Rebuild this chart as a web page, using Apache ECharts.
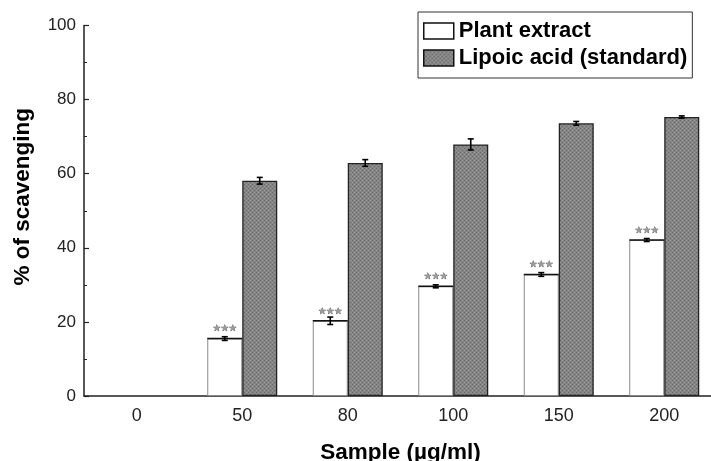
<!DOCTYPE html>
<html>
<head>
<meta charset="utf-8">
<script src="https://cdn.jsdelivr.net/npm/echarts@6/dist/echarts.min.js"></script>
<style>
  html, body { margin: 0; padding: 0; background: #fff; overflow: hidden; }
  #chart { width: 711px; height: 461px; }
</style>
</head>
<body>
<div id="chart"></div>
<script>
// Sample concentrations (µg/ml)
const categories = ['0', '50', '80', '100', '150', '200'];
// % of scavenging, mean and error
const plantExtract = [null, 15.5, 20.3, 29.6, 32.8, 42.1];
const plantError   = [null, 0.5, 1.0, 0.4, 0.5, 0.4];
const lipoicAcid   = [null, 58.1, 62.9, 67.9, 73.6, 75.3];
const lipoicError  = [null, 0.9, 0.9, 1.5, 0.5, 0.3];
const yTicks = [0, 20, 40, 60, 80, 100];

const FONT = '"Liberation Sans", Arial, sans-serif';
const BAR_W = 35;

// Fine dotted texture for the standard bars
function makeTexture() {
  const c = document.createElement('canvas');
  c.width = 4; c.height = 4;
  const ctx = c.getContext('2d');
  ctx.fillStyle = '#858585';
  ctx.fillRect(0, 0, 4, 4);
  ctx.fillStyle = '#6a6a6a';
  ctx.fillRect(0, 0, 1, 1);
  ctx.fillRect(2, 2, 1, 1);
  ctx.fillStyle = '#969696';
  ctx.fillRect(2, 0, 1, 1);
  ctx.fillRect(0, 2, 1, 1);
  return c;
}
const texture = makeTexture();

function errorData(means, errs) {
  return means.map((m, i) => m == null ? [i, null, null, null] : [i, m - errs[i], m + errs[i], m]);
}

// Error bar centered on its bar; withTop also draws the bar's dark top edge
function errorRenderer(side, withTop) {
  return function (params, api) {
    if (api.value(1) == null || isNaN(api.value(1))) return;
    const idx = api.value(0);
    const lo = api.coord([idx, api.value(1)]);
    const hi = api.coord([idx, api.value(2)]);
    const mid = api.coord([idx, api.value(3)]);
    const x = lo[0] + side * BAR_W / 2;
    const cap = 3;
    const style = { stroke: '#000', lineWidth: 1.6 };
    const children = [];
    if (withTop) {
      children.push({ type: 'line', shape: { x1: x - BAR_W / 2, y1: mid[1], x2: x + BAR_W / 2, y2: mid[1] },
        style: { stroke: '#111', lineWidth: 1.5 } });
    }
    children.push(
      { type: 'line', shape: { x1: x, y1: lo[1], x2: x, y2: hi[1] }, style },
      { type: 'line', shape: { x1: x - cap, y1: lo[1], x2: x + cap, y2: lo[1] }, style },
      { type: 'line', shape: { x1: x - cap, y1: hi[1], x2: x + cap, y2: hi[1] }, style }
    );
    return { type: 'group', children };
  };
}

const chart = echarts.init(document.getElementById('chart'), null, { renderer: 'canvas' });

const option = {
  animation: false,
  backgroundColor: '#ffffff',
  grid: { left: 84, top: 25.5, width: 633, height: 370.5, containLabel: false, outerBoundsMode: 'none' },
  legend: {
    top: 12, left: 418,
    orient: 'vertical',
    icon: 'rect',
    itemWidth: 30, itemHeight: 16, itemGap: 5,
    padding: [8, 5, 9, 5],
    borderColor: '#333', borderWidth: 1,
    textStyle: { fontFamily: FONT, fontSize: 22, lineHeight: 22, fontWeight: 'bold', color: '#000' },
    data: [
      { name: 'Plant extract', itemStyle: { color: '#fff', borderColor: '#111', borderWidth: 1.5 } },
      { name: 'Lipoic acid (standard)', itemStyle: { borderColor: '#111', borderWidth: 1.5 } }
    ]
  },
  xAxis: {
    type: 'category',
    data: categories,
    name: 'Sample (µg/ml)',
    nameLocation: 'middle',
    nameGap: 45,
    nameTextStyle: { fontFamily: FONT, fontSize: 22.5, fontWeight: 'bold', color: '#000' },
    axisLine: { lineStyle: { color: '#222', width: 1.5 } },
    axisTick: { show: false },
    axisLabel: { fontFamily: FONT, fontSize: 18, color: '#222', margin: 11 }
  },
  yAxis: {
    type: 'value',
    min: 0, max: 100, interval: 20,
    name: '% of scavenging',
    nameLocation: 'middle',
    nameGap: 50,
    nameTextStyle: { fontFamily: FONT, fontSize: 22.5, fontWeight: 'bold', color: '#000', padding: [0, 0, 0, 28] },
    axisLine: { show: true, lineStyle: { color: '#222', width: 1.5 } },
    axisTick: { show: true, inside: true, length: 5, lineStyle: { color: '#222', width: 1.2 } },
    minorTick: { show: true, splitNumber: 2, length: 3, lineStyle: { color: '#222' } },
    splitLine: { show: false },
    axisLabel: {
      fontFamily: FONT, fontSize: 17, color: '#222', margin: 8,
      formatter: v => yTicks.includes(v) ? String(v) : ''
    }
  },
  series: [
    {
      name: 'Plant extract',
      type: 'bar',
      data: plantExtract,
      barWidth: BAR_W,
      barGap: '0%',
      itemStyle: { color: '#ffffff', borderColor: '#8a8a8a', borderWidth: 1 },
      label: {
        show: true, position: 'top', distance: 5,
        formatter: p => p.value == null ? '' : '★★★',
        fontFamily: '"DejaVu Sans", sans-serif', fontSize: 9, color: '#9a9a9a',
        textBorderColor: '#555', textBorderWidth: 0.6
      }
    },
    {
      name: 'Lipoic acid (standard)',
      type: 'bar',
      data: lipoicAcid,
      barWidth: BAR_W,
      barGap: '0%',
      itemStyle: {
        color: { image: texture, repeat: 'repeat' },
        borderColor: '#222', borderWidth: 1.3
      }
    },
    {
      type: 'custom',
      name: 'plantErr',
      renderItem: errorRenderer(-1, true),
      data: errorData(plantExtract, plantError),
      encode: { x: 0, y: [1, 2] },
      z: 10
    },
    {
      type: 'custom',
      name: 'lipoicErr',
      renderItem: errorRenderer(1, false),
      data: errorData(lipoicAcid, lipoicError),
      encode: { x: 0, y: [1, 2] },
      z: 10
    }
  ]
};

chart.setOption(option);
</script>
</body>
</html>
